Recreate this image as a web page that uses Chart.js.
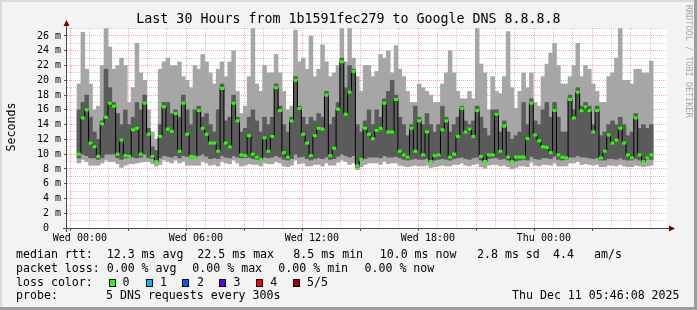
<!DOCTYPE html>
<html>
<head>
<meta charset="utf-8">
<script src="https://cdn.jsdelivr.net/npm/chart.js@4.4.1/dist/chart.umd.min.js"></script>
<style>
  html, body { margin: 0; padding: 0; background: #f3f3f3; }
  #frame { position: relative; width: 697px; height: 310px; background: #f3f3f3; overflow: hidden;
           font-family: 'DejaVu Sans Mono', monospace; color: #000; }
  #frame canvas { position: absolute; left: 0; top: 0; }
  .edge { position: absolute; }
  .t { position: absolute; white-space: pre; font-size: 11.6px; line-height: 14px; }
  .sw { position: absolute; width: 5px; height: 6px; border: 1px solid #000; }
  #title { position: absolute; left: 0; top: 11px; width: 697px; text-align: center; font-size: 13.3px; line-height: 16px; white-space: pre; }
  #ylabel { position: absolute; left: -29px; top: 120px; width: 80px; height: 14px; line-height: 14px; font-size: 11.6px;
            text-align: center; transform: rotate(-90deg); }
  #mark { position: absolute; left: 684px; top: 5px; writing-mode: vertical-rl; font-size: 8.5px; line-height: 9px; color: #a8a8a8; white-space: pre; }
</style>
</head>
<body>
<div id="frame">
  <canvas id="smoke" width="697" height="310"></canvas>
  <div class="edge" style="left:0;top:0;width:697px;height:2px;background:#dadada"></div>
  <div class="edge" style="left:0;top:0;width:2px;height:310px;background:#dadada"></div>
  <div class="edge" style="right:0;top:0;width:3px;height:310px;background:#9c9c9c"></div>
  <div class="edge" style="left:0;bottom:0;width:697px;height:3px;background:#9c9c9c"></div>
  <div id="title">Last 30 Hours from 1b1591fec279 to Google DNS 8.8.8.8</div>
  <div id="ylabel">Seconds</div>
  <div id="mark">RRDTOOL / TOBI OETIKER</div>
  <div id="legend"></div>
</div>
<script>
// 30 hours of probes, one consolidated sample every 12 minutes, minutes from Wed 00:00
const firstSample = -3;
const sampleStep = 12;

// sorted ping values per sample, in ms
const pingMax = [
  19.5, 26.5, 21.5, 19.5, 16, 16.5, 22, 27, 24.5, 21.5, 22, 23, 22, 17, 19, 25, 21, 20, 16, 13, 12, 21.5, 22.5, 23, 22, 22,
  22.5, 20.5, 20, 19, 22, 21.5, 23.5, 22.5, 21, 19.5, 21.5, 22.5, 20.5, 22.5, 24, 18.5, 15.5, 16.5, 20.5, 27, 19.5, 18.5, 22, 21, 21,
  23.5, 21, 18.5, 16, 16.5, 26.8, 22.5, 23, 21.5, 26, 20.5, 21.5, 24.8, 22.5, 20.5, 21, 22, 27, 22.5, 27, 23, 20.5, 18.5, 22, 22,
  20.5, 21.2, 23.5, 23, 24, 21, 24.7, 21.5, 20.5, 18.5, 17, 17, 19.5, 19, 18.5, 18, 17, 17, 19.5, 21, 24, 21, 18.5, 17.5, 17.5,
  18.5, 17.5, 27, 22.2, 21, 16, 20.5, 18.5, 18.2, 20.5, 26.6, 19, 16.2, 18.5, 21, 19, 21, 17, 16.5, 20.5, 22.2, 23.7, 25, 22, 19.5,
  19.5, 20.5, 22, 25, 20.5, 22, 21.5, 19.5, 18.5, 17, 17, 20.5, 21, 23, 27, 20, 20, 19.5, 21.5, 21.5, 21, 21, 22.6
];
const pingHi = [
  16, 17, 18, 15, 13, 12, 14.5, 21.5, 19, 17, 15.5, 14, 16, 14, 15, 17, 16, 18, 13.5, 11, 10.5, 14, 17, 17, 15.5, 16,
  15, 18, 16, 14, 16, 16.5, 15, 15.5, 14, 13, 16, 19.5, 14.5, 15, 18, 15, 13, 13.5, 15, 16, 14.5, 13, 15, 14, 15,
  19.5, 16.5, 14, 13, 15, 20.5, 16.5, 15, 14, 15, 14.5, 15.5, 15, 18.5, 14, 15, 17, 23, 19, 22, 21.5, 14, 13, 14.5, 16,
  14, 16, 15, 17.5, 18.5, 20, 18, 15, 14, 12.5, 14, 16.5, 15, 14, 15.5, 14, 13, 14, 16.5, 15, 13, 14, 15, 16.5, 14.5,
  14, 14.5, 16.5, 15, 13.5, 12.5, 16, 16, 13, 14.5, 13, 12, 12.5, 13, 17, 14, 17.5, 14.5, 14, 16, 17, 15, 17, 15, 13,
  13, 18, 16, 19, 16.5, 17, 16.5, 14, 16.5, 12.5, 13, 14, 14.5, 14, 15, 14, 12.5, 13, 15.5, 13.5, 14, 13.5, 14
];
const pingLo = [
  9.5, 10, 9.8, 9.5, 9.5, 9.3, 9.5, 10, 10, 10, 9.5, 9.3, 9.5, 9.5, 9.6, 9.5, 9.6, 10, 9.5, 9.4, 9, 9.5, 9.8, 9.7, 9.6, 9.8,
  9.5, 9.8, 9.7, 9.5, 9.5, 9.8, 10, 9.7, 9.4, 9.5, 9.4, 9.8, 9.6, 9.5, 9.8, 9.6, 9.5, 9.5, 9.6, 9.4, 9.3, 9.2, 9.6, 9.5, 9.6,
  9.8, 9.6, 9.3, 9.2, 9.4, 10, 9.6, 9.7, 9.4, 9.2, 9.4, 9.5, 9.4, 9.6, 9.3, 9.4, 9.7, 10, 9.8, 9.6, 9.8, 8.2, 9.2, 9.4, 9.6,
  9.6, 9.6, 9.5, 9.8, 9.6, 9.6, 9.7, 9.5, 9.3, 9.2, 9.3, 9.4, 9.3, 9.3, 9.4, 8.9, 9.2, 9.3, 9.4, 9.3, 9.2, 9.4, 9.5, 9.6, 9.4,
  9.3, 9.5, 9.6, 9.2, 8.9, 9.4, 9.5, 9.5, 9.3, 9.4, 9.2, 8.9, 9.1, 9.2, 9.3, 9.2, 9.7, 9.4, 9.3, 9.5, 9.5, 9.4, 9.7, 9.3, 9.2,
  9.3, 9.6, 9.6, 9.8, 9.6, 9.6, 9.5, 9.4, 9.5, 9.2, 9.2, 9.4, 9.4, 9.3, 9.5, 9.3, 9.2, 9.2, 9.4, 9.2, 8.9, 9.3, 9.3
];
const pingMin = [
  8.8, 9.3, 9, 8.5, 8.5, 8.5, 8.8, 9.2, 9, 9, 8.7, 8.2, 8.5, 8.7, 8.7, 8.8, 8.9, 9, 9, 8.7, 8.4, 8.6, 9.2, 9, 8.8, 9.2,
  8.8, 9, 8.5, 8.5, 8.5, 8.5, 9, 8.8, 8.5, 8.6, 8.4, 9, 8.8, 8.7, 9.2, 8.8, 8.4, 8.5, 8.7, 8.6, 8.6, 8.4, 8.8, 8.7, 8.7,
  9, 8.8, 8.4, 8.3, 8.5, 9.2, 8.7, 8.8, 8.4, 8.4, 8.6, 8.6, 8.4, 8.8, 8.5, 8.5, 8.9, 9.2, 9, 8.6, 8.8, 7.9, 8.3, 8.6, 8.8,
  8.8, 8.8, 8.6, 9, 8.7, 8.8, 8.8, 8.5, 8.4, 8.3, 8.4, 8.5, 8.4, 8.4, 8.5, 8.2, 8.3, 8.4, 8.5, 8.4, 8.4, 8.6, 8.6, 8.8, 8.5,
  8.4, 8.6, 8.7, 8.3, 8.1, 8.5, 8.6, 8.6, 8.4, 8.5, 8.3, 8.0, 8.2, 8.4, 8.4, 8.3, 8.9, 8.5, 8.4, 8.6, 8.6, 8.5, 8.8, 8.4, 8.4,
  8.4, 8.8, 8.8, 9, 8.6, 8.7, 8.6, 8.5, 8.6, 8.3, 8.3, 8.5, 8.5, 8.4, 8.6, 8.4, 8.3, 8.3, 8.5, 8.4, 8.3, 8.4, 8.5
];
const pingMedian = [
  10, 14.9, 16, 11.5, 11, 9.7, 14.1, 15, 16.9, 16.5, 10, 11.9, 9.8, 9.7, 13.3, 13.5, 10, 16.9, 12.7, 9.7, 9, 12.4, 16.4, 13.4, 13.1, 15.5,
  10.4, 16.9, 12.7, 9.7, 9.6, 15.9, 13.5, 12.7, 11.5, 11.5, 10.4, 18.9, 11.5, 11, 16.9, 14.5, 9.9, 9.8, 12.5, 10, 9.6, 9.3, 12.2, 10.4, 12.4,
  19, 15.9, 10.2, 9.6, 14.5, 20, 16.2, 12.7, 11.5, 9.8, 12.5, 13.5, 13.4, 18, 9.8, 10.8, 16.1, 22.5, 15.4, 18.4, 21.2, 8.4, 9.3, 13.5, 12.7,
  12.1, 13.2, 13.5, 16.9, 13, 13, 17.4, 10.4, 9.9, 9.6, 13.5, 10.4, 14.5, 9.9, 13, 9, 9.8, 9.9, 13.3, 14.5, 9.6, 10, 12.4, 16.2, 13,
  13.4, 12.4, 15.9, 9.7, 9, 9.9, 9.9, 15.4, 10.4, 13.8, 9.6, 9, 9.6, 9.6, 9.6, 12.1, 16.9, 12.6, 11.8, 11, 10.9, 10.2, 15.9, 9.9, 9.6,
  9.5, 17.4, 14.9, 18.4, 15.9, 16.4, 15.9, 13, 15.9, 9.5, 10.4, 12.6, 11.5, 11.9, 13.5, 11.5, 9.9, 9.5, 14.9, 9.9, 9, 9.5, 9.9
];

// axis labels
const xTickMinutes = [0, 360, 720, 1080, 1440];
const xTickLabels = ['Wed 00:00', 'Wed 06:00', 'Wed 12:00', 'Wed 18:00', 'Thu 00:00'];
const yTickValues = [0, 2, 4, 6, 8, 10, 12, 14, 16, 18, 20, 22, 24, 26];
const yTickLabels = ['0', '2 m', '4 m', '6 m', '8 m', '10 m', '12 m', '14 m', '16 m', '18 m', '20 m', '22 m', '24 m', '26 m'];

// legend text
const legendRows = [
  [[16, 'median rtt:'], [106.7, '12.3 ms avg'], [197.3, '22.5 ms max'], [293.3, '8.5 ms min'], [379.7, '10.0 ms now'], [477, '2.8 ms sd'], [553, '4.4'], [594, 'am/s']],
  [[16, 'packet loss:'], [106.7, '0.00 % avg'], [192.3, '0.00 % max'], [278.3, '0.00 % min'], [364.5, '0.00 % now']],
  [[16, 'loss color:'], [122.6, '0'], [160, '1'], [197, '2'], [233.6, '3'], [270.3, '4'], [307, '5/5']],
  [[16, 'probe:'], [106, '5 DNS requests every 300s'], [512, 'Thu Dec 11 05:46:08 2025']]
];
const legendTops = [247.3, 261, 274.7, 288];
const lossColors = ['#26ff00', '#00b8ff', '#0059ff', '#5e00ff', '#ff0000', '#a10000'];
const swatchLefts = [108.5, 145.5, 182.3, 219.3, 256, 293.3];

const legend = document.getElementById('legend');
legendRows.forEach((row, r) => {
    row.forEach(([left, text]) => {
        const s = document.createElement('div');
        s.className = 't';
        s.style.left = left + 'px';
        s.style.top = legendTops[r] + 'px';
        s.textContent = text;
        legend.appendChild(s);
    });
});
lossColors.forEach((c, i) => {
    const b = document.createElement('div');
    b.className = 'sw';
    b.style.left = swatchLefts[i] + 'px';
    b.style.top = '278.5px';
    b.style.background = c;
    legend.appendChild(b);
});

const sampleMinutes = pingMedian.map((_, i) => firstSample + i * sampleStep);
const hourMarks = [];
for (let m = 0; m <= 1740; m += 60) hourMarks.push(m);
const yMarks = [];
for (let v = 0; v <= 27; v++) yMarks.push(v);

const majorGrid = 'rgba(255,40,40,0.42)';
const minorGrid = 'rgba(120,120,120,0.38)';
const isMajor = (c, every) => !!c.tick && c.tick.value % every === 0;

const plotFrame = {
    id: 'plotFrame',
    beforeDraw(chart) {
        const { ctx, chartArea: a } = chart;
        ctx.save();
        ctx.fillStyle = '#ffffff';
        ctx.fillRect(a.left, a.top, a.right - a.left, a.bottom - a.top);
        ctx.restore();
    },
    afterDraw(chart) {
        const { ctx, chartArea: a } = chart;
        ctx.save();
        ctx.strokeStyle = '#4a4a4a';
        ctx.lineWidth = 1;
        ctx.beginPath();
        ctx.moveTo(a.left - 0.5, a.bottom + 4);
        ctx.lineTo(a.left - 0.5, a.top - 5);
        ctx.moveTo(a.left - 4, a.bottom + 0.5);
        ctx.lineTo(a.right + 5, a.bottom + 0.5);
        ctx.stroke();
        ctx.fillStyle = '#7f0000';
        ctx.beginPath();
        ctx.moveTo(a.left - 0.5, a.top - 8);
        ctx.lineTo(a.left - 3.5, a.top - 2);
        ctx.lineTo(a.left + 2.5, a.top - 2);
        ctx.closePath();
        ctx.fill();
        ctx.beginPath();
        ctx.moveTo(a.right + 8, a.bottom + 0.5);
        ctx.lineTo(a.right + 2, a.bottom - 2.5);
        ctx.lineTo(a.right + 2, a.bottom + 3.5);
        ctx.closePath();
        ctx.fill();
        ctx.restore();
    }
};

const axisFont = { family: 'DejaVu Sans Mono', size: 10 };

new Chart(document.getElementById('smoke'), {
    type: 'bar',
    data: {
        datasets: [{
            type: 'line',
            label: 'median rtt',
            data: sampleMinutes.map((m, i) => ({ x: m, y: pingMedian[i] })),
            borderColor: '#000000',
            borderWidth: 1,
            stepped: 'middle',
            pointStyle: 'line',
            pointRadius: 2,
            pointBorderWidth: 3,
            pointBorderColor: lossColors[0],
            pointBackgroundColor: lossColors[0],
            order: 0
        },
        {
            label: 'inner smoke',
            data: sampleMinutes.map((m, i) => ({ x: m, y: [pingLo[i], pingHi[i]] })),
            backgroundColor: '#5b5b5b',
            borderWidth: 0,
            barPercentage: 1,
            categoryPercentage: 1,
            grouped: false,
            order: 1
        },
        {
            label: 'outer smoke',
            data: sampleMinutes.map((m, i) => ({ x: m, y: [pingMin[i], pingMax[i]] })),
            backgroundColor: '#a6a6a6',
            borderWidth: 0,
            barPercentage: 1,
            categoryPercentage: 1,
            grouped: false,
            order: 2
        }]
    },
    options: {
        responsive: false,
        animation: false,
        events: [],
        layout: { padding: { left: 0, top: 28, right: 30, bottom: 0 } },
        plugins: { legend: { display: false }, tooltip: { enabled: false } },
        scales: {
            x: {
                type: 'linear',
                min: -9,
                max: 1791,
                z: 1,
                afterBuildTicks: s => { s.ticks = hourMarks.map(v => ({ value: v })); },
                afterFit: s => { s.height = 82; },
                grid: {
                    color: c => isMajor(c, 180) ? majorGrid : minorGrid,
                    tickLength: 3,
                    tickColor: c => isMajor(c, 180) ? '#555555' : 'rgba(0,0,0,0)'
                },
                border: { display: false, dash: [1, 1] },
                ticks: {
                    autoSkip: false,
                    maxRotation: 0,
                    padding: 1,
                    color: '#000000',
                    font: axisFont,
                    callback: v => {
                        const k = xTickMinutes.indexOf(v);
                        return k < 0 ? '' : xTickLabels[k];
                    }
                }
            },
            y: {
                min: 0,
                max: 27.083,
                z: 1,
                afterBuildTicks: s => { s.ticks = yMarks.map(v => ({ value: v })); },
                afterFit: s => { s.width = 67; },
                grid: {
                    color: c => isMajor(c, 2) ? majorGrid : minorGrid,
                    tickLength: 3,
                    tickColor: c => isMajor(c, 2) ? '#555555' : 'rgba(0,0,0,0)'
                },
                border: { display: false, dash: [1, 1] },
                ticks: {
                    autoSkip: false,
                    padding: 3,
                    color: '#000000',
                    font: axisFont,
                    callback: v => {
                        const k = yTickValues.indexOf(v);
                        return k < 0 ? '' : yTickLabels[k].padEnd(3);
                    }
                }
            }
        }
    },
    plugins: [plotFrame]
});
</script>
</body>
</html>
